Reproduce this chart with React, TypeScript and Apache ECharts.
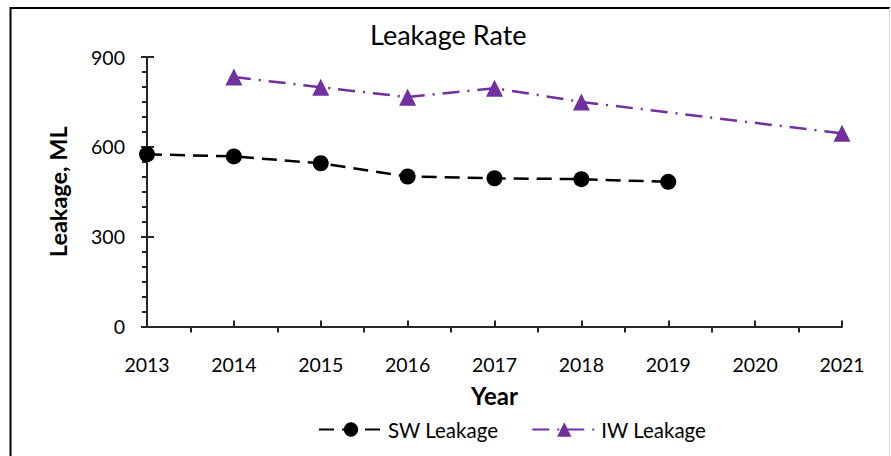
import React, { useEffect, useRef } from "react";
import * as echarts from "echarts";

const swYears = [2013, 2014, 2015, 2016, 2017, 2018, 2019];
const swValues = [575, 568, 545, 501, 495, 492, 483];
const iwYears = [2014, 2015, 2016, 2017, 2018, 2021];
const iwValues = [833, 799, 766, 796, 750, 645];
const xMin = 2013;
const xMax = 2021;
const yMax = 900;
const yStep = 300;

const FONT = "Lato";

export default function App() {
  const ref = useRef<HTMLDivElement>(null);
  useEffect(() => {
    if (!ref.current) return;
    const chart = echarts.init(ref.current, undefined, { renderer: "svg" });
    const axisColor = "#262626";
    const option: any = {
      animation: false,
      backgroundColor: "#fff",
      textStyle: { fontFamily: FONT, color: "#000" },
      title: {
        text: "Leakage Rate",
        left: 370,
        top: 21,
        padding: 0,
        textStyle: { fontFamily: FONT, fontSize: 27, fontWeight: "normal", color: "#000" },
      },
      grid: { left: 147, right: 49, top: 57, bottom: 129.5 },
      legend: {
        left: 318,
        top: 419,
        padding: 0,
        itemWidth: 64,
        itemHeight: 18,
        itemGap: 33,
        textStyle: { fontFamily: FONT, fontSize: 20.5, color: "#000" },
        data: ["SW Leakage", "IW Leakage"],
      },
      xAxis: [
        {
          type: "value",
          min: xMin,
          max: xMax,
          interval: 1,
          name: "Year",
          nameLocation: "middle",
          nameGap: 57,
          nameTextStyle: { fontFamily: FONT, fontSize: 24, fontWeight: "bold", color: "#000" },
          splitLine: { show: false },
          axisLine: { show: true, lineStyle: { color: axisColor, width: 2 } },
          axisTick: { show: true, inside: true, length: 6, lineStyle: { color: axisColor, width: 2 } },
          minorTick: { show: true, splitNumber: 2, length: -6, lineStyle: { color: axisColor, width: 2 } },
          axisLabel: { fontFamily: FONT, fontSize: 19.5, color: "#000", margin: 28, formatter: (v: number) => String(v) },
        },
      ],
      yAxis: [
        {
          type: "value",
          min: 0,
          max: yMax,
          interval: yStep,
          name: "Leakage, ML",
          nameLocation: "middle",
          nameGap: 77,
          nameTextStyle: { fontFamily: FONT, fontSize: 23.5, fontWeight: "bold", color: "#000" },
          splitLine: { show: false },
          axisLine: { show: true, lineStyle: { color: axisColor, width: 2 } },
          axisTick: { show: true, inside: false, length: 6, lineStyle: { color: axisColor, width: 2 } },
          minorTick: { show: true, splitNumber: 6, length: 5, lineStyle: { color: axisColor, width: 2 } },
          axisLabel: { fontFamily: FONT, fontSize: 19.5, color: "#000", margin: 22 },
        },
        {
          type: "value",
          min: 0,
          max: yMax,
          interval: yStep,
          position: "left",
          splitLine: { show: false },
          axisLine: { show: false },
          axisTick: { show: true, inside: true, length: 7, lineStyle: { color: axisColor, width: 2 } },
          axisLabel: { show: false },
        },
      ],
      series: [
        {
          name: "SW Leakage",
          type: "line",
          data: swYears.map((y, i) => [y, swValues[i]]),
          symbol: "circle",
          symbolSize: 16,
          itemStyle: { color: "#000" },
          lineStyle: { color: "#000", width: 2.5, type: [15, 8] },
        },
        {
          name: "IW Leakage",
          type: "line",
          data: iwYears.map((y, i) => [y, iwValues[i]]),
          symbol: "triangle",
          symbolSize: 17,
          itemStyle: { color: "#7030A0" },
          lineStyle: { color: "#7030A0", width: 2.5, type: [17, 8, 2, 8] },
        },
      ],
      graphic: [
        { type: "line", shape: { x1: 10.5, y1: 7, x2: 10.5, y2: 460 }, style: { stroke: "#000", lineWidth: 2 } },
        { type: "line", shape: { x1: 10, y1: 8, x2: 890, y2: 8 }, style: { stroke: "#000", lineWidth: 2 } },
        { type: "line", shape: { x1: 889.5, y1: 8, x2: 889.5, y2: 460 }, style: { stroke: "#d9d9d9", lineWidth: 1 } },
      ],
    };
    chart.setOption(option);
    return () => chart.dispose();
  }, []);
  return (
    <div
      ref={ref}
      style={{ position: "fixed", left: 0, top: 0, width: 891, height: 456 }}
    />
  );
}
